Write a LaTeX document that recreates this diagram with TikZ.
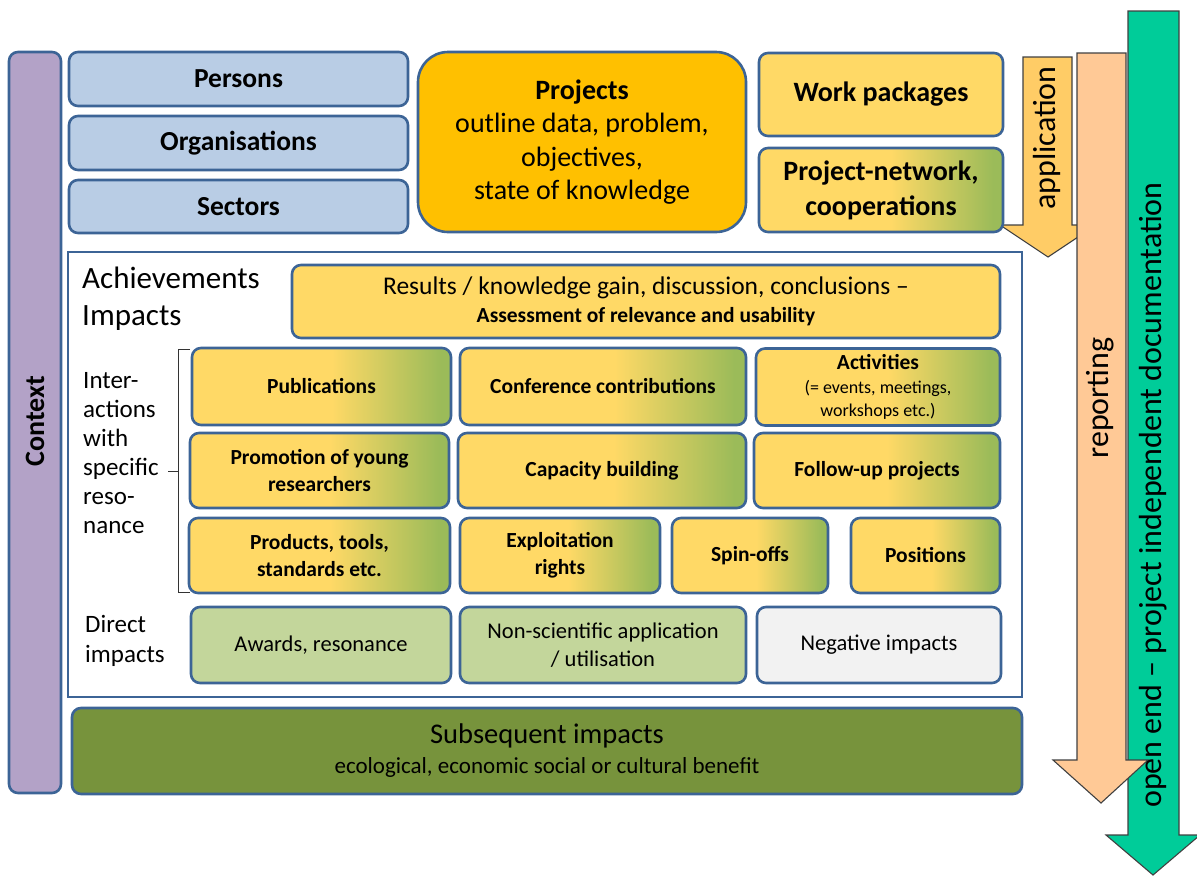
\documentclass[tikz,border=0pt]{standalone}
\usepackage{fontspec}
\setmainfont{Carlito}
\definecolor{bord}{HTML}{3C6496}
\definecolor{persf}{HTML}{B9CDE5}
\definecolor{ctxf}{HTML}{B3A2C7}
\definecolor{projf}{HTML}{FFC000}
\definecolor{ylw}{HTML}{FFD966}
\definecolor{grn}{HTML}{9BBB59}
\definecolor{lgrn}{HTML}{C3D69B}
\definecolor{negf}{HTML}{F2F2F2}
\definecolor{subf}{HTML}{77933C}
\definecolor{appf}{HTML}{FFCC66}
\definecolor{repf}{HTML}{FFC996}
\definecolor{docf}{HTML}{00CC99}
\definecolor{arrb}{HTML}{404040}
\pgfdeclarehorizontalshading{ygshade}{100bp}{color(0bp)=(ylw); color(25bp)=(ylw); color(52bp)=(ylw); color(73bp)=(grn); color(100bp)=(grn)}
\newcommand\fsz[2]{\fontsize{#1}{#2}\selectfont}
\tikzset{
  bx/.style={draw=bord, line width=2.6pt, rounded corners=9pt, align=center, inner sep=0pt,
    font=\bfseries\fsz{21.5}{27}},
  ygbx/.style={bx, shade, shading=ygshade},
  bigarrow/.style={draw=arrb, line width=1.1pt, line join=miter},
  arrtxt/.style={rotate=90, font=\fsz{32}{34}, inner sep=0pt},
  lbl/.style={align=left, anchor=north west, inner sep=0pt}
}
\begin{document}
\begin{tikzpicture}[x=1pt, y=-1pt]
\useasboundingbox (0,0) rectangle (1197,876);

% big arrows
\draw[bigarrow, fill=docf] (1128,11) -- (1179,11) -- (1179,835) -- (1200,835) -- (1153,875) -- (1106,835) -- (1128,835) -- cycle;
\draw[bigarrow, fill=appf] (1023,57) -- (1072,57) -- (1072,225) -- (1096,225) -- (1048,257) -- (1000,225) -- (1023,225) -- cycle;
\draw[bigarrow, fill=repf] (1077,53) -- (1126,53) -- (1126,760) -- (1148,760) -- (1101,803) -- (1053,760) -- (1077,760) -- cycle;
\node[arrtxt] (tapp) at (1047,138) {application};
\node[arrtxt] (trep) at (1100,398) {reporting};
\node[arrtxt] (tdoc) at (1153,495) {open end – project independent documentation};

% context
\node[bx, fill=ctxf, minimum width=52pt, minimum height=741pt] (ctx) at (35,422.5) {};
\node[rotate=90, font=\bfseries\fsz{28}{30}] (ctxt) at (35,421) {Context};

% top blocks
\node[bx, fill=persf, minimum width=339pt, minimum height=54pt, font=\bfseries\fsz{27.5}{30}] (pers) at (238.5,79) {Persons};
\node[bx, fill=persf, minimum width=339pt, minimum height=54pt, font=\bfseries\fsz{27.5}{30}] (org) at (238.5,143) {Organisations};
\node[bx, fill=persf, minimum width=339pt, minimum height=53pt, font=\bfseries\fsz{27.5}{30}] (sec) at (238.5,206.5) {Sectors};
\node[bx, fill=projf, rounded corners=30pt, minimum width=328pt, minimum height=180pt, font=\fsz{28}{33.5}] (proj) at (582,142)
  {\textbf{Projects}\\outline data, problem,\\objectives,\\state of knowledge};
\node[bx, fill=ylw, minimum width=244pt, minimum height=83pt, font=\bfseries\fsz{28}{30}] (wp) at (881,94.5) {Work packages};
\node[ygbx, minimum width=244pt, minimum height=84pt, font=\bfseries\fsz{28}{35}] (pnet) at (881,190) {Project-network,\\cooperations};

% achievements frame
\draw[draw=bord, line width=2.4pt] (68,252) rectangle (1022,697);
\node[lbl, font=\fsz{31}{37}] (ach) at (82,267) {Achievements\\Impacts};
\node[bx, fill=ylw, minimum width=708pt, minimum height=73pt, font=\fsz{25.5}{28}] (res) at (646,301.5)
  {Results / knowledge gain, discussion, conclusions –\\\bfseries\fsz{21.5}{28}Assessment of relevance and usability};

\node[lbl, font=\fsz{25}{29}] (inter) at (83,372) {Inter-\\actions\\with\\specific\\reso-\\nance};
\draw[line width=1pt, black!80] (190,349) -- (178,349) -- (178,592) -- (190,592);
\draw[line width=1pt, black!80] (178,471) -- (168,471);

% row 1
\node[ygbx, minimum width=259pt, minimum height=77pt] (pub) at (321.5,386.5) {Publications};
\node[ygbx, minimum width=286pt, minimum height=77pt] (conf) at (603,386.5) {Conference contributions};
\node[ygbx, minimum width=244pt, minimum height=77pt, font=\fsz{18}{23.5}] (act) at (878,387)
  {\textbf{\fsz{21.5}{23.5}Activities}\\(= events, meetings,\\workshops etc.)};
% row 2
\node[ygbx, minimum width=259pt, minimum height=75pt] (prom) at (319.5,470.5) {Promotion of young\\researchers};
\node[ygbx, minimum width=288pt, minimum height=75pt] (cap) at (602,470.5) {Capacity building};
\node[ygbx, minimum width=246pt, minimum height=75pt] (fol) at (877,470.5) {Follow-up projects};
% row 3
\node[ygbx, minimum width=261pt, minimum height=75pt] (prod) at (319.5,555.5) {Products, tools,\\standards etc.};
\node[ygbx, minimum width=200pt, minimum height=75pt] (expl) at (560,555.5) {Exploitation\\rights};
\node[ygbx, minimum width=156pt, minimum height=75pt] (spin) at (750,555.5) {Spin-offs};
\node[ygbx, minimum width=149pt, minimum height=75pt] (pos) at (925.5,555.5) {Positions};
% row 4
\node[lbl, font=\fsz{25}{30}] (direct) at (85,615) {Direct\\impacts};
\node[bx, fill=lgrn, minimum width=260pt, minimum height=76pt, font=\fsz{22.5}{28}] (awd) at (321,645) {Awards, resonance};
\node[bx, fill=lgrn, minimum width=286pt, minimum height=76pt, font=\fsz{22.5}{28}] (nons) at (603,645) {Non-scientific application\\/ utilisation};
\node[bx, fill=negf, minimum width=244pt, minimum height=76pt, font=\fsz{22.5}{28}] (neg) at (879,645) {Negative impacts};

% subsequent
\node[bx, fill=subf, minimum width=950pt, minimum height=86pt, font=\fsz{23}{30}] (subs) at (547,751)
  {\fsz{28.5}{30}Subsequent impacts\\ecological, economic social or cultural benefit};
\end{tikzpicture}
\end{document}
